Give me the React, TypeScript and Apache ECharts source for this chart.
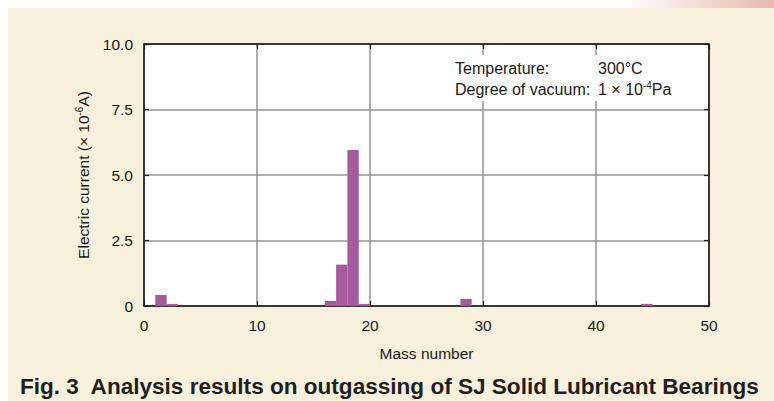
import React, { useEffect, useRef } from "react";
import * as echarts from "echarts";

// Data
const massNumbers = [1, 2, 16, 17, 18, 19, 28, 44]; // bar spans [m, m+1]
const currents = [0.42, 0.08, 0.19, 1.58, 5.95, 0.08, 0.27, 0.08];
const xTicks = [0, 10, 20, 30, 40, 50];
const yTickLabels: Record<string, string> = { "0": "0", "2.5": "2.5", "5": "5.0", "7.5": "7.5", "10": "10.0" };

const BAR_COLOR = "#a45a9c";
const FONT = "'Liberation Sans', Arial, Helvetica, sans-serif";

export default function App() {
  const ref = useRef<HTMLDivElement>(null);
  useEffect(() => {
    if (!ref.current) return;
    const chart = echarts.init(ref.current, null, { renderer: "svg" });
    const data = massNumbers.map((m, i) => [m, currents[i]]);
    const tick = { show: true, inside: true, length: 5, lineStyle: { color: "#222", width: 1.2 } };
    chart.setOption({
      animation: false,
      textStyle: { fontFamily: FONT },
      grid: { left: 144, top: 44, right: 65, bottom: 95, show: true, backgroundColor: "#ffffff", borderWidth: 0 },
      xAxis: [
        {
          type: "value",
          min: xTicks[0],
          max: xTicks[xTicks.length - 1],
          interval: 10,
          axisLine: { show: true, onZero: false, lineStyle: { color: "#111", width: 1.5 } },
          axisTick: tick,
          axisLabel: { color: "#1a1a1a", fontSize: 15.5, margin: 11, fontFamily: FONT },
          splitLine: { show: true, lineStyle: { color: "#959595", width: 1.5 } },
          name: "Mass number",
          nameLocation: "middle",
          nameGap: 39,
          nameTextStyle: { color: "#1a1a1a", fontSize: 15.5, fontFamily: FONT },
        },
        {
          type: "value",
          position: "top",
          min: 0,
          max: 50,
          interval: 10,
          axisLine: { show: true, onZero: false, lineStyle: { color: "#111", width: 1.5 } },
          axisTick: tick,
          axisLabel: { show: false },
          splitLine: { show: false },
        },
      ],
      yAxis: [
        {
          type: "value",
          min: 0,
          max: 10,
          interval: 2.5,
          axisLine: { show: true, onZero: false, lineStyle: { color: "#111", width: 1.5 } },
          axisTick: tick,
          axisLabel: {
            color: "#1a1a1a",
            fontSize: 15.5,
            margin: 11,
            fontFamily: FONT,
            formatter: (v: number) => yTickLabels[String(v)] ?? String(v),
          },
          splitLine: { show: true, lineStyle: { color: "#959595", width: 1.5 } },
          name: "{a|Electric current (× 10}{s|-6}{a|A)}",
          nameLocation: "middle",
          nameRotate: 90,
          nameGap: 51,
          nameTextStyle: {
            color: "#1a1a1a",
            fontFamily: FONT,
            rich: {
              a: { fontSize: 15.5, color: "#1a1a1a", fontFamily: FONT, lineHeight: 18 },
              s: { fontSize: 10, color: "#1a1a1a", fontFamily: FONT, verticalAlign: "top", lineHeight: 18 },
            },
          },
        },
        {
          type: "value",
          position: "right",
          min: 0,
          max: 10,
          interval: 2.5,
          axisLine: { show: true, onZero: false, lineStyle: { color: "#111", width: 1.5 } },
          axisTick: tick,
          axisLabel: { show: false },
          splitLine: { show: false },
        },
      ],
      series: [
        {
          type: "custom",
          xAxisIndex: 0,
          yAxisIndex: 0,
          z: 5,
          data,
          renderItem: (_params: any, api: any) => {
            const x0 = api.value(0);
            const v = api.value(1);
            const p0 = api.coord([x0, v]);
            const p1 = api.coord([x0 + 1, 0]);
            return {
              type: "rect",
              shape: { x: p0[0], y: p0[1], width: p1[0] - p0[0], height: p1[1] - p0[1] },
              style: { fill: BAR_COLOR },
            };
          },
        },
      ],
      graphic: [
        {
          type: "rect",
          z: 10,
          shape: { x: 448, y: 55, width: 259, height: 46 },
          style: { fill: "#ffffff" },
        },
        {
          type: "text",
          z: 11,
          x: 455,
          y: 68,
          style: { text: "Temperature:", fontSize: 16, fontFamily: FONT, fill: "#1a1a1a", verticalAlign: "middle" },
        },
        {
          type: "text",
          z: 11,
          x: 598,
          y: 68,
          style: { text: "300°C", fontSize: 16, fontFamily: FONT, fill: "#1a1a1a", verticalAlign: "middle" },
        },
        {
          type: "text",
          z: 11,
          x: 455,
          y: 89,
          style: { text: "Degree of vacuum:", fontSize: 16, fontFamily: FONT, fill: "#1a1a1a", verticalAlign: "middle" },
        },
        {
          type: "text",
          z: 11,
          x: 598,
          y: 89,
          style: {
            text: "{a|1 × 10}{s|-4}{a|Pa}",
            verticalAlign: "middle",
            rich: {
              a: { fontSize: 16, fontFamily: FONT, fill: "#1a1a1a", lineHeight: 18 } as any,
              s: { fontSize: 10, fontFamily: FONT, fill: "#1a1a1a", verticalAlign: "top", lineHeight: 18 } as any,
            },
          },
        },
        {
          type: "text",
          z: 11,
          x: 20,
          y: 387,
          scaleX: 1.05,
          style: {
            text: "Fig. 3  Analysis results on outgassing of SJ Solid Lubricant Bearings",
            fontSize: 21.5,
            fontWeight: "bold",
            fontFamily: FONT,
            fill: "#1f1f1f",
            verticalAlign: "middle",
          },
        },
      ],
    });
    return () => chart.dispose();
  }, []);

  return (
    <div style={{ position: "fixed", left: 0, top: 0, width: 774, height: 401, background: "#ffffff", overflow: "hidden" }}>
      <div
        style={{
          position: "absolute",
          left: 625,
          top: 0,
          width: 149,
          height: 8,
          background: "linear-gradient(to right, #ffffff, #e6b8ae)",
        }}
      />
      <div style={{ position: "absolute", left: 8, top: 8, right: 0, bottom: 0, background: "#f6f0dc" }} />
      <div ref={ref} style={{ position: "absolute", left: 0, top: 0, width: 774, height: 401 }} />
    </div>
  );
}
